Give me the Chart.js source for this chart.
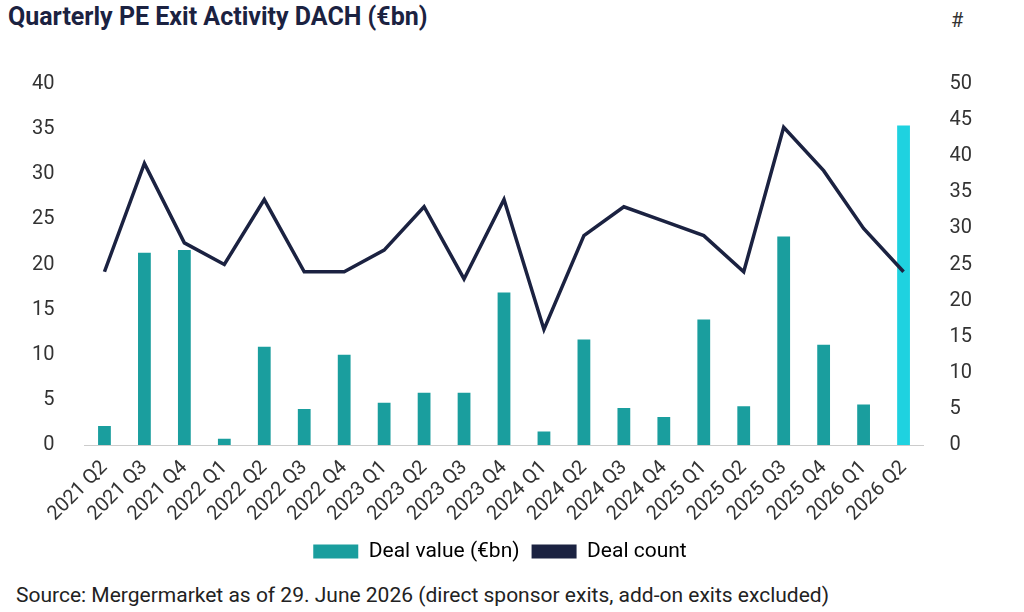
<!DOCTYPE html>
<html>
<head>
<meta charset="utf-8">
<script src="https://cdn.jsdelivr.net/npm/chart.js@4"></script>
<style>
  body { margin: 0; background: #fff; font-family: Roboto, sans-serif; }
  #wrap { position: relative; width: 1024px; height: 612px; }
  #title { position: absolute; left: 8px; top: 2px; font-size: 25px; font-weight: bold; color: #1b2241; }
  #hash { position: absolute; left: 951px; top: 8px; font-size: 20px; color: #333; }
  #source { position: absolute; left: 16px; top: 583px; font-size: 21px; color: #222; }
  #box { position: absolute; left: 0; top: 50px; width: 1000px; height: 522px; }
</style>
</head>
<body>
<div id="wrap">
  <div id="title">Quarterly PE Exit Activity DACH (€bn)</div>
  <div id="hash">#</div>
  <div id="box"><canvas id="chart"></canvas></div>
  <div id="source">Source: Mergermarket as of 29. June 2026 (direct sponsor exits, add-on exits excluded)</div>
</div>
<script>
const quarters = ['2021 Q2','2021 Q3','2021 Q4','2022 Q1','2022 Q2','2022 Q3','2022 Q4','2023 Q1','2023 Q2','2023 Q3','2023 Q4','2024 Q1','2024 Q2','2024 Q3','2024 Q4','2025 Q1','2025 Q2','2025 Q3','2025 Q4','2026 Q1','2026 Q2'];
const dealValue = [2.1, 21.3, 21.6, 0.7, 10.9, 4.0, 10.0, 4.7, 5.8, 5.8, 16.9, 1.5, 11.7, 4.1, 3.1, 13.9, 4.3, 23.1, 11.1, 4.5, 35.4];
const dealCount = [24, 39, 28, 25, 34, 24, 24, 27, 33, 23, 34, 16, 29, 33, 31, 29, 24, 44, 38, 30, 24];

document.addEventListener("DOMContentLoaded", () => {
  const barColors = dealValue.map((v, i) => i === dealValue.length - 1 ? '#1fd2e0' : '#1a9e9e');
  new Chart(document.getElementById('chart'), {
    data: {
      labels: quarters,
      datasets: [
        { type: 'bar', label: 'Deal value (€bn)', data: dealValue, yAxisID: 'y',
          backgroundColor: barColors, barPercentage: 0.32, categoryPercentage: 1, order: 1 },
        { type: 'line', label: 'Deal count', data: dealCount, yAxisID: 'y1',
          borderColor: '#1b2241', backgroundColor: '#1b2241', borderWidth: 3.5,
          pointRadius: 0, tension: 0, order: 0 }
      ]
    },
    options: {
      responsive: true, maintainAspectRatio: false, animation: false,
      layout: { padding: { left: 10, right: 10, top: 15 } },
      plugins: {
        legend: {
          position: 'bottom',
          labels: { color: '#222', font: { size: 21, family: 'Roboto' }, boxWidth: 45, boxHeight: 14, padding: 12,
            generateLabels: chart => chart.data.datasets.map((ds, i) => ({
              text: ds.label, datasetIndex: i, lineWidth: 0,
              fillStyle: i === 1 ? '#1b2241' : '#1a9e9e', strokeStyle: 'transparent'
            }))
          }
        },
        tooltip: { enabled: false }
      },
      scales: {
        x: { grid: { display: false }, border: { color: '#ccc' },
          ticks: { color: '#333', font: { size: 20, family: 'Roboto' }, maxRotation: 45, minRotation: 45, autoSkip: false } },
        y: { position: 'left', min: 0, max: 40, grid: { display: false }, border: { display: false },
          ticks: { stepSize: 5, color: '#333', font: { size: 20, family: 'Roboto' }, padding: 22 } },
        y1: { position: 'right', min: 0, max: 50, grid: { display: false }, border: { display: false },
          ticks: { stepSize: 5, color: '#333', font: { size: 20, family: 'Roboto' }, padding: 18 } }
      }
    }
  });
});
</script>
</body>
</html>
